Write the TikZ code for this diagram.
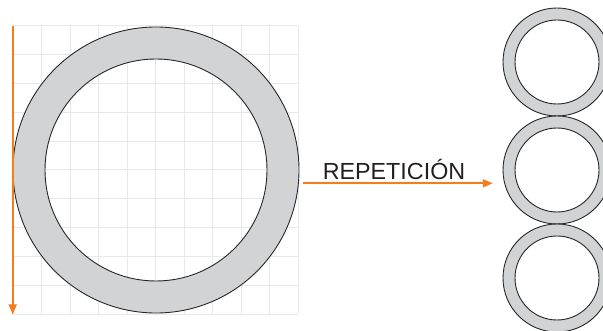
\documentclass[tikz,border=0pt]{standalone}
\usepackage{fontspec}
\setmainfont{Liberation Sans}
\usetikzlibrary{arrows.meta,positioning,calc}
\definecolor{ringgray}{RGB}{209,211,212}
\definecolor{gridgray}{RGB}{232,232,232}
\definecolor{arroworange}{RGB}{244,125,32}
\definecolor{textdark}{RGB}{35,31,32}

\tikzset{
  ring/.style={fill=ringgray, draw=black!85, line width=0.9pt, even odd rule},
  gridline/.style={draw=gridgray, line width=1pt},
  orangearrow/.style={draw=arroworange, line width=1.6pt,
                      -{Triangle[length=10pt,width=8pt]}},
  ringspot/.style={circle, inner sep=0pt, minimum size=#1}
}

\begin{document}
\begin{tikzpicture}[x=1pt, y=-1pt]
  \useasboundingbox (0,0) rectangle (603,331);

  % Grid behind the big ring
  \foreach \i in {0,...,10}{
    \draw[gridline] (13+\i*28.5, 25.7) -- (13+\i*28.5, 314.3);
    \draw[gridline] (13, 25.7+\i*28.86) -- (298, 25.7+\i*28.86);
  }

  % Big ring
  \node[ringspot=286pt] (bigring) at (156,170) {};
  \path[ring] (bigring.center) circle[radius=143] (bigring.center) circle[radius=111];

  % Small rings
  \foreach \n/\y in {ringa/62, ringb/170, ringc/278}{
    \node[ringspot=108pt] (\n) at (557,\y) {};
    \path[ring] (\n.center) circle[radius=54] (\n.center) circle[radius=42];
  }

  % Vertical arrow on the grid edge
  \coordinate (gridtop) at (12.7,25.7);
  \coordinate (gridbot) at (12.7,314.5);
  \draw[orangearrow] (gridtop) -- (gridbot);

  % Repetition arrow
  \coordinate (repfrom) at ([xshift=4pt, yshift=-13.3pt]bigring.east);
  \coordinate (repto) at ([xshift=-10pt, yshift=-13.3pt]ringb.west);
  \draw[orangearrow] (repfrom) -- (repto);
  \node[anchor=base, text=textdark, font=\fontsize{23.3}{28}\selectfont,
        inner sep=0pt] (replabel) at (394,179.3) {REPETICIÓN};
\end{tikzpicture}
\end{document}
